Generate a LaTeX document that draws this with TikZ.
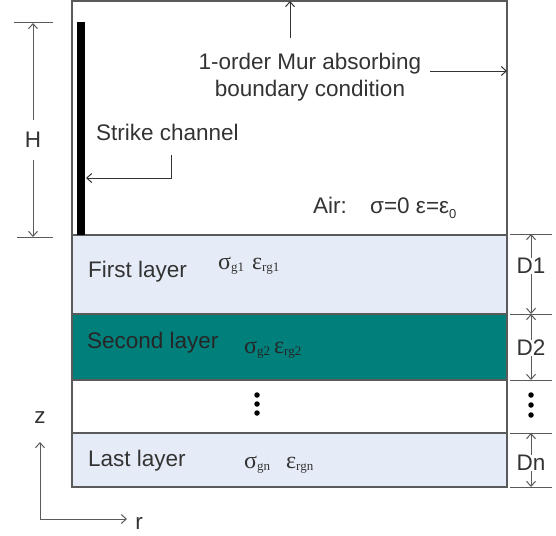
\documentclass[tikz,border=0pt]{standalone}
\usepackage{fontspec}
\setmainfont{Liberation Sans}
\newfontfamily\serifgr{Liberation Serif}
\usetikzlibrary{arrows.meta}
\definecolor{txt}{HTML}{333333}
\definecolor{edge}{HTML}{5A5A5A}
\definecolor{lightlayer}{HTML}{E6ECF7}
\definecolor{teal2}{HTML}{007F7B}
\newcommand{\lowsub}[1]{\raisebox{-0.45ex}{\fontsize{13}{13}\selectfont #1}}
\newcommand{\gr}[1]{{\serifgr\fontsize{24}{24}\selectfont #1}}
\tikzset{
  lbl/.style={font=\fontsize{22.5}{26}\selectfont, text=txt, inner sep=0pt},
  boxline/.style={draw=edge, line width=1.4pt},
  dimline/.style={draw=edge, line width=1pt},
  dimtip/.style={-{Straight Barb[length=5pt,width=9pt]}},
  leader/.style={draw=txt, line width=1pt, -{Straight Barb[length=5pt,width=9pt]}},
  dotc/.style={circle, fill=black, inner sep=0pt, minimum size=5.5pt}
}
\begin{document}
\begin{tikzpicture}[x=1pt,y=-1pt]
\useasboundingbox (0,0) rectangle (556,535);
% layers
\fill[lightlayer] (72,235) rectangle (507,314);
\fill[teal2] (72,314) rectangle (507,380);
\fill[lightlayer] (72,433) rectangle (507,487);
\draw[boxline] (72,1) rectangle (507,487);
\draw[boxline] (72,235) -- (507,235);
\draw[boxline] (72,314) -- (507,314);
\draw[boxline] (72,380) -- (507,380);
\draw[boxline] (72,433) -- (507,433);
% strike channel
\fill[black] (77,22) rectangle (85,235);
% H dimension
\coordinate (ht1) at (14,23); \coordinate (ht2) at (53,23);
\coordinate (hb1) at (17,237); \coordinate (hb2) at (53,237);
\draw[dimline] (ht1) -- (ht2);
\draw[dimline] (hb1) -- (hb2);
\node[lbl] (H) at (33,140) {H};
\coordinate (Htop) at (33,23); \coordinate (Hbot) at (33,237);
\draw[dimline,dimtip] (33,120) -- (Htop);
\draw[dimline,dimtip] (33,160) -- (Hbot);
% strike channel label
\node[lbl, anchor=west] (sc) at (96,132) {Strike channel};
\coordinate (scc) at (171,155);
\coordinate (sct) at (86,178);
\draw[leader] (scc) -- (171,178) -- (sct);
% Mur label
\node[lbl, align=center] (mur) at (310,77) {1-order Mur absorbing\\[1pt]boundary condition};
\coordinate (murtop) at (290,1);
\coordinate (muru) at (290,38);
\draw[leader] (muru) -- (murtop);
\coordinate (murr0) at (430,71);
\coordinate (murr1) at (507,71);
\draw[leader] (murr0) -- (murr1);
% air
\node[lbl, anchor=base west] (air) at (313,213) {Air:};
\node[anchor=base west, inner sep=0pt, text=txt] (airv) at (370,213) {\fontsize{22.5}{26}\selectfont σ=0 ε=ε\lowsub{0}};
% layer labels
\node[lbl, anchor=west] (l1) at (88,272) {First layer};
\node[anchor=base west, inner sep=0pt, text=txt] (p1) at (218,269) {\gr{σ}\lowsub{\serifgr g1}\hspace{8pt}\gr{ε}\lowsub{\serifgr rg1}};
\node[lbl, anchor=west, text=black!85] (l2) at (87,343) {Second layer};
\node[anchor=base west, inner sep=0pt, text=black!85] (p2) at (244,353) {\gr{σ}\lowsub{\serifgr g2}\hspace{4pt}\gr{ε}\lowsub{\serifgr rg2}};
\node[lbl, anchor=west] (l3) at (88,461) {Last layer};
\node[anchor=base west, inner sep=0pt, text=txt] (p3) at (244,468) {\gr{σ}\lowsub{\serifgr gn}\hspace{16pt}\gr{ε}\lowsub{\serifgr rgn}};
% dots
\node[dotc] (d1) at (257,395) {};
\node[dotc] (d2) at (257,404) {};
\node[dotc] (d3) at (257,413) {};
\node[dotc] (e1) at (531,395) {};
\node[dotc] (e2) at (531,405) {};
\node[dotc] (e3) at (531,415) {};
% right dimensions
\foreach \yy/\nm in {234/t0,314/t1,380/t2,433/t3,487/t4} {
  \coordinate (\nm a) at (510,\yy); \coordinate (\nm b) at (552,\yy);
  \draw[dimline] (\nm a) -- (\nm b);
}
\node[lbl] (D1) at (531,266) {D1};
\node[lbl] (D2) at (531,348) {D2};
\node[lbl] (Dn) at (531,463) {Dn};
\draw[dimline,dimtip] (D1.north) -- (531,234);
\draw[dimline,dimtip] (D1.south) -- (531,314);
\draw[dimline,dimtip] (D2.north) -- (531,314);
\draw[dimline,dimtip] (D2.south) -- (531,380);
\draw[dimline,dimtip] (Dn.north) -- (531,433);
\draw[dimline,dimtip] (Dn.south) -- (531,487);
% axes
\coordinate (o) at (40,519);
\coordinate (zt) at (40,442);
\coordinate (rt) at (127,519);
\draw[dimline,dimtip] (o) -- (zt);
\draw[dimline,dimtip] (o) -- (rt);
\node[lbl] (z) at (40,418) {z};
\node[lbl] (r) at (139,523) {r};
\end{tikzpicture}
\end{document}
